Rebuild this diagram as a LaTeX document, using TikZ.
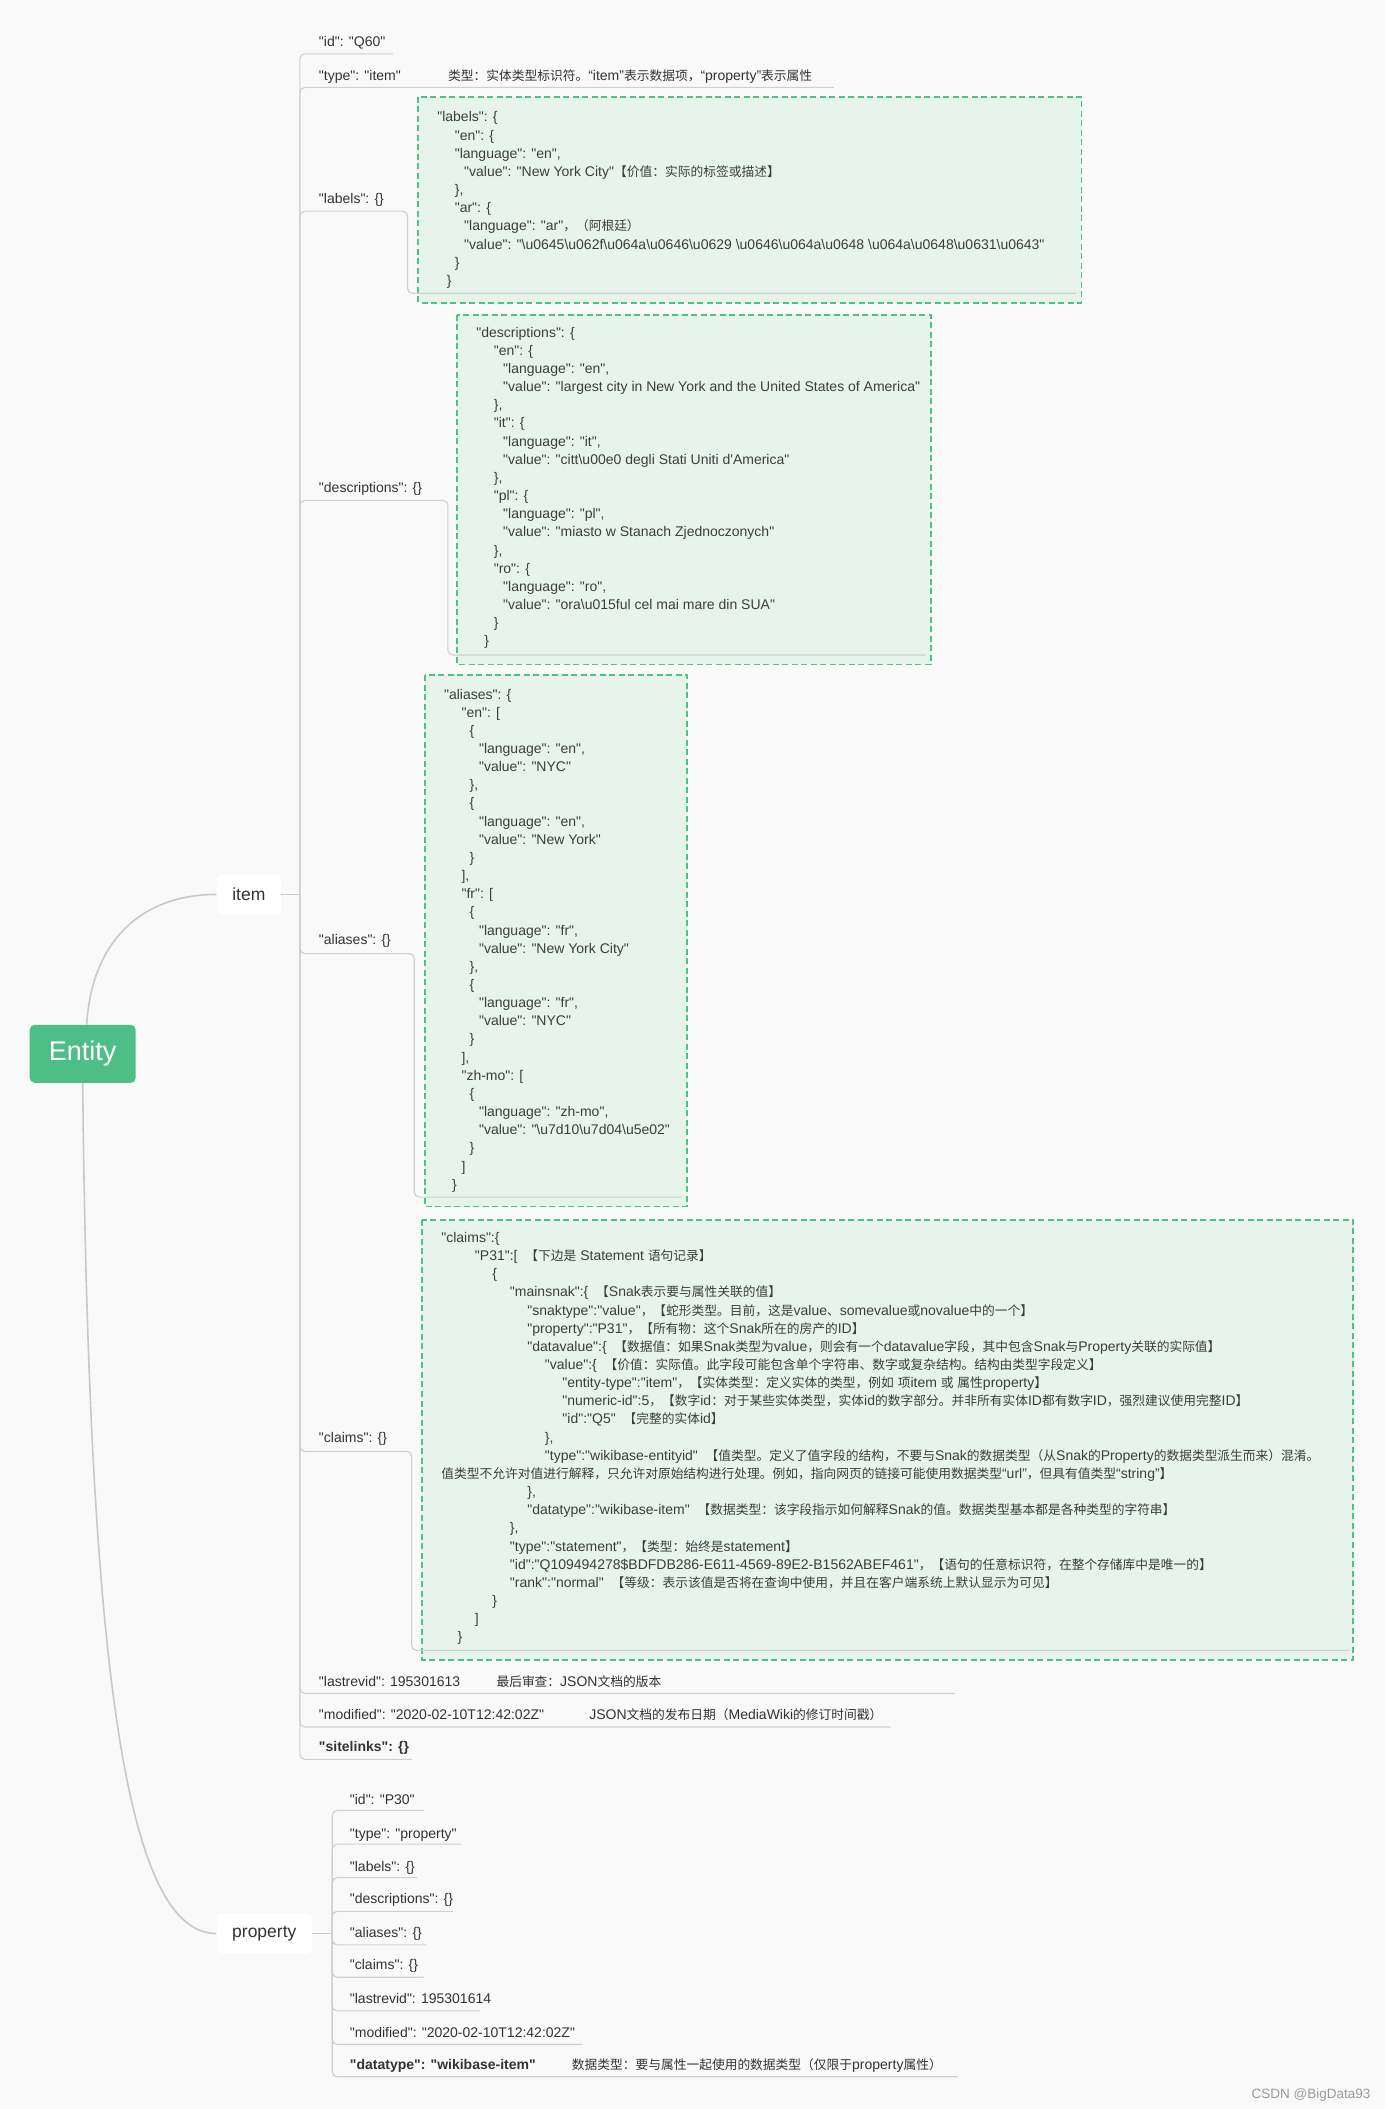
\documentclass[tikz,border=0pt]{standalone}
\usepackage{fontspec}
\usetikzlibrary{calc}
\newfontfamily\latin{Liberation Sans}
\newfontfamily\cjkfont{Noto Sans CJK SC}[Scale=0.91]
\newcommand\bs{\textbackslash}
\newdimen\unitpx \unitpx=1.3447pt
\newcommand\ind[1]{\hspace*{#1\unitpx}}
% automatic font switch for CJK characters
\XeTeXinterchartokenstate=1
\chardef\cjkclass=77
\newcount\cc
\def\setcjkrange#1#2{\cc=#1 \loop\XeTeXcharclass\cc=\cjkclass \ifnum\cc<#2 \advance\cc by 1 \repeat}
\setcjkrange{"3000}{"303F}
\setcjkrange{"4E00}{"9FFF}
\setcjkrange{"FF00}{"FFEF}
\XeTeXinterchartoks 0 \cjkclass={\cjkfont}
\XeTeXinterchartoks 1 \cjkclass={\cjkfont}
\XeTeXinterchartoks 2 \cjkclass={\cjkfont}
\XeTeXinterchartoks 3 \cjkclass={\cjkfont}
\XeTeXinterchartoks 4095 \cjkclass={\cjkfont}
\XeTeXinterchartoks \cjkclass 0={\latin}
\XeTeXinterchartoks \cjkclass 1={\latin}
\XeTeXinterchartoks \cjkclass 2={\latin}
\XeTeXinterchartoks \cjkclass 3={\latin}
\XeTeXinterchartoks \cjkclass 4095={\latin}
\definecolor{bgc}{HTML}{F9F9F9}
\definecolor{linec}{HTML}{C9C9C9}
\definecolor{branchc}{HTML}{CFCFCF}
\definecolor{boxfill}{HTML}{E7F4EC}
\definecolor{boxborder}{HTML}{4CC486}
\definecolor{entityc}{HTML}{4DBF86}
\definecolor{labelc}{HTML}{333333}
\definecolor{jsonc}{HTML}{3D3D3D}
\definecolor{markc}{HTML}{9A9A9A}
\tikzset{
  conn/.style={draw=linec, line width=1.6pt},
  branch/.style={draw=branchc, line width=1.1pt, rounded corners=5pt},
  lbl/.style={anchor=base west, inner sep=0pt, text=labelc, font=\latin\fontsize{14}{18}\selectfont},
  boldlbl/.style={lbl, font=\latin\bfseries\fontsize{14}{18}\selectfont},
  desc/.style={lbl},
  json/.style={anchor=north west, inner sep=0pt, align=left, text=jsonc, font=\latin\fontsize{14}{18.15}\selectfont},
  jsonbox/.style={draw=boxborder, fill=boxfill, line width=1.8pt, dash pattern=on 6pt off 3.5pt},
  root/.style={fill=entityc, rounded corners=5pt, text=white, minimum width=106pt, minimum height=58pt, inner sep=0pt, font=\latin\fontsize{27}{30}\selectfont},
  topic/.style={fill=white, rounded corners=6pt, text=labelc, inner sep=0pt, minimum height=40pt, font=\latin\fontsize{17.5}{20}\selectfont}
}
\begin{document}
\begin{tikzpicture}[x=1.3447pt,y=-1.3447pt]
\fill[bgc] (0,0) rectangle (1030,1568);
\useasboundingbox (0,0) rectangle (1030,1568);

% boundaries
\draw[jsonbox] (311,72) rectangle (804,225);
\draw[jsonbox] (340,234) rectangle (692,494);
\draw[jsonbox] (316,502) rectangle (511,897);
\draw[jsonbox] (314,907) rectangle (1006,1234);

% main topics
\node[root] (entity) at (61.5,783.5) {Entity};
\node[topic, minimum width=64.5pt] (item) at (185,665) {item};
\node[topic, minimum width=95.5pt] (property) at (196.5,1437.5) {property};

\draw[conn] ($(entity.north)+(3,0)$) .. controls (68,700) and (105,665) .. (item.west);
\draw[conn] (entity.south) .. controls (66,1250) and (95,1437.5) .. (property.west);

% item branches
\coordinate (ij) at (223,665);
\draw[conn, line width=1.3pt] (item.east) -- (ij);
\draw[branch] (ij) |- (292,40);
\draw[branch] (ij) |- (620,65);
\draw[branch] (ij) |- (303,157) -- (303,218) -- (800,218);
\draw[branch] (ij) |- (333,372) -- (333,487) -- (688,487);
\draw[branch] (ij) |- (308,709) -- (308,890) -- (507,890);
\draw[branch] (ij) |- (306,1079) -- (306,1227) -- (1003,1227);
\draw[branch] (ij) |- (710,1259);
\draw[branch] (ij) |- (662,1284);
\draw[branch] (ij) |- (306,1308);

% item labels
\node[lbl] (iid) at (237,34.5) {"id": "Q60"};
\node[lbl] (itype) at (237,59.5) {"type": "item"};
\node[desc] (itypedesc) at (333,59.5) {类型：实体类型标识符。“item”表示数据项，“property”表示属性};
\node[lbl] (ilabels) at (237,151.5) {"labels": \{\}};
\node[lbl] (idesc) at (237,366.5) {"descriptions": \{\}};
\node[lbl] (ialiases) at (237,702.5) {"aliases": \{\}};
\node[lbl] (iclaims) at (237,1072.5) {"claims": \{\}};
\node[lbl] (ilastrev) at (237,1253.5) {"lastrevid": 195301613};
\node[desc] (ilastrevdesc) at (369,1253.5) {最后审查：JSON文档的版本};
\node[lbl] (imod) at (237,1278.5) {"modified": "2020-02-10T12:42:02Z"};
\node[desc] (imoddesc) at (438,1278.5) {JSON文档的发布日期（MediaWiki的修订时间戳）};
\node[boldlbl] (isite) at (237,1302.5) {"sitelinks": \{\}};

% JSON blocks
\node[json] (labelsjson) at (325,81.1) {\strut"labels": \{\\
\ind{13}"en": \{\\
\ind{13}"language": "en",\\
\ind{20}"value": "New York City"【价值：实际的标签或描述】\\
\ind{13}\},\\
\ind{13}"ar": \{\\
\ind{20}"language": "ar"，（阿根廷）\\
\ind{20}"value": "\bs u0645\bs u062f\bs u064a\bs u0646\bs u0629 \bs u0646\bs u064a\bs u0648 \bs u064a\bs u0648\bs u0631\bs u0643"\\
\ind{13}\}\\
\ind{7}\}};

\node[json] (descjson) at (354,241.1) {\strut"descriptions": \{\\
\ind{13}"en": \{\\
\ind{20}"language": "en",\\
\ind{20}"value": "largest city in New York and the United States of America"\\
\ind{13}\},\\
\ind{13}"it": \{\\
\ind{20}"language": "it",\\
\ind{20}"value": "citt\bs u00e0 degli Stati Uniti d'America"\\
\ind{13}\},\\
\ind{13}"pl": \{\\
\ind{20}"language": "pl",\\
\ind{20}"value": "miasto w Stanach Zjednoczonych"\\
\ind{13}\},\\
\ind{13}"ro": \{\\
\ind{20}"language": "ro",\\
\ind{20}"value": "ora\bs u015ful cel mai mare din SUA"\\
\ind{13}\}\\
\ind{6}\}};

\node[json] (aliasjson) at (330,510.1) {\strut"aliases": \{\\
\ind{13}"en": [\\
\ind{19}\{\\
\ind{26}"language": "en",\\
\ind{26}"value": "NYC"\\
\ind{19}\},\\
\ind{19}\{\\
\ind{26}"language": "en",\\
\ind{26}"value": "New York"\\
\ind{19}\}\\
\ind{13}],\\
\ind{13}"fr": [\\
\ind{19}\{\\
\ind{26}"language": "fr",\\
\ind{26}"value": "New York City"\\
\ind{19}\},\\
\ind{19}\{\\
\ind{26}"language": "fr",\\
\ind{26}"value": "NYC"\\
\ind{19}\}\\
\ind{13}],\\
\ind{13}"zh-mo": [\\
\ind{19}\{\\
\ind{26}"language": "zh-mo",\\
\ind{26}"value": "\bs u7d10\bs u7d04\bs u5e02"\\
\ind{19}\}\\
\ind{13}]\\
\ind{6}\}};

\node[json] (claimsjson) at (328,914.1) {\strut"claims":\{\\
\ind{25}"P31":[ \ 【下边是 Statement 语句记录】\\
\ind{38}\{\\
\ind{51}"mainsnak":\{ \ 【Snak表示要与属性关联的值】\\
\ind{64}"snaktype":"value"，【蛇形类型。目前，这是value、somevalue或novalue中的一个】\\
\ind{64}"property":"P31"，【所有物：这个Snak所在的房产的ID】\\
\ind{64}"datavalue":\{ \ 【数据值：如果Snak类型为value，则会有一个datavalue字段，其中包含Snak与Property关联的实际值】\\
\ind{77}"value":\{ \ 【价值：实际值。此字段可能包含单个字符串、数字或复杂结构。结构由类型字段定义】\\
\ind{90}"entity-type":"item"，【实体类型：定义实体的类型，例如 项item 或 属性property】\\
\ind{90}"numeric-id":5，【数字id：对于某些实体类型，实体id的数字部分。并非所有实体ID都有数字ID，强烈建议使用完整ID】\\
\ind{90}"id":"Q5" \ 【完整的实体id】\\
\ind{77}\},\\
\ind{77}"type":"wikibase-entityid" \ 【值类型。定义了值字段的结构，不要与Snak的数据类型（从Snak的Property的数据类型派生而来）混淆。\\
值类型不允许对值进行解释，只允许对原始结构进行处理。例如，指向网页的链接可能使用数据类型“url”，但具有值类型“string”】\\
\ind{64}\},\\
\ind{64}"datatype":"wikibase-item" \ 【数据类型：该字段指示如何解释Snak的值。数据类型基本都是各种类型的字符串】\\
\ind{51}\},\\
\ind{51}"type":"statement"，【类型：始终是statement】\\
\ind{51}"id":"Q109494278\$BDFDB286-E611-4569-89E2-B1562ABEF461"，【语句的任意标识符，在整个存储库中是唯一的】\\
\ind{51}"rank":"normal" \ 【等级：表示该值是否将在查询中使用，并且在客户端系统上默认显示为可见】\\
\ind{38}\}\\
\ind{25}]\\
\ind{12}\}};

% property branches
\coordinate (pj) at (247,1437.5);
\draw[conn, line width=1.3pt] (property.east) -- (pj);
\draw[branch] (pj) |- (315,1346);
\draw[branch] (pj) |- (343,1371);
\draw[branch] (pj) |- (310,1396);
\draw[branch] (pj) |- (337,1421);
\draw[branch] (pj) |- (317,1446);
\draw[branch] (pj) |- (315,1470);
\draw[branch] (pj) |- (357,1495);
\draw[branch] (pj) |- (433,1520);
\draw[branch] (pj) |- (712,1544);

\node[lbl] (pid) at (260,1341.5) {"id": "P30"};
\node[lbl] (ptype) at (260,1366.5) {"type": "property"};
\node[lbl] (plabels) at (260,1391.5) {"labels": \{\}};
\node[lbl] (pdesc) at (260,1415.5) {"descriptions": \{\}};
\node[lbl] (paliases) at (260,1440.5) {"aliases": \{\}};
\node[lbl] (pclaims) at (260,1464.5) {"claims": \{\}};
\node[lbl] (plastrev) at (260,1489.5) {"lastrevid": 195301614};
\node[lbl] (pmod) at (260,1514.5) {"modified": "2020-02-10T12:42:02Z"};
\node[boldlbl] (pdtype) at (260,1538.5) {"datatype": "wikibase-item"};
\node[desc] (pdtypedesc) at (425,1538.5) {数据类型：要与属性一起使用的数据类型（仅限于property属性）};

\node[anchor=base east, inner sep=0pt, text=markc, font=\latin\fontsize{13.5}{15}\selectfont] (mark) at (1019,1560) {CSDN @BigData93};
\end{tikzpicture}
\end{document}
